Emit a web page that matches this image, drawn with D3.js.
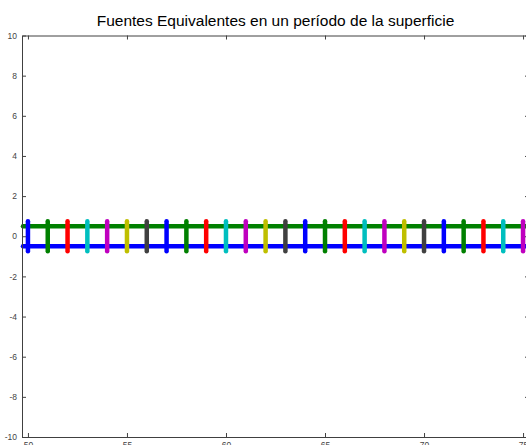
<!DOCTYPE html>
<html>
<head>
<meta charset="utf-8">
<script src="https://cdn.jsdelivr.net/npm/d3@7"></script>
<style>
  html, body { margin: 0; padding: 0; background: #fff; }
  svg { display: block; }
</style>
</head>
<body>
<svg id="chart" width="526" height="445"></svg>
<script>
// Equivalent sources: one vertical segment per integer position,
// two horizontal rails above and below the surface.
const sourcePositions = d3.range(50, 76);        // 50 .. 75
const segmentHalfHeight = 0.75;
const railLevels = [0.5, -0.5];
const railColors = ["#008000", "#0000ff"];
const railExtent = [49.75, 75.25];
const cycleColors = ["#0000ff", "#008000", "#ff0000", "#00bfbf", "#bf00bf", "#bfbf00", "#404040"];
const xTicks = [50, 55, 60, 65, 70, 75];
const yTicks = [-10, -8, -6, -4, -2, 0, 2, 4, 6, 8, 10];
const xDomain = [49.7, 75.3];
const yDomain = [-10, 10];
const titleText = "Fuentes Equivalentes en un período de la superficie";

const svg = d3.select("#chart");
const plotLeft = 22, plotRight = 529, plotTop = 35.5, plotBottom = 437;

const x = d3.scaleLinear().domain(xDomain).range([plotLeft, plotRight]);
const y = d3.scaleLinear().domain(yDomain).range([plotBottom, plotTop]);

const axisColor = "#404040";
const font = "'Liberation Sans', Arial, sans-serif";
const plain = d => String(d);   // hyphen-minus, as the labels are printed

// Title
svg.append("text")
  .attr("x", (plotLeft + plotRight) / 2)
  .attr("y", 26)
  .attr("text-anchor", "middle")
  .attr("font-family", font)
  .attr("font-size", 15.5)
  .attr("fill", "#000")
  .text(titleText);

// Horizontal rails
const line = d3.line().x(d => x(d[0])).y(d => y(d[1]));
svg.append("g").selectAll("path")
  .data(railLevels)
  .join("path")
  .attr("d", lv => line([[railExtent[0], lv], [railExtent[1], lv]]))
  .attr("stroke", (lv, i) => railColors[i])
  .attr("stroke-width", 4.5)
  .attr("stroke-linecap", "round")
  .attr("fill", "none");

// Vertical source segments
svg.append("g").selectAll("path")
  .data(sourcePositions)
  .join("path")
  .attr("d", p => line([[p, -segmentHalfHeight], [p, segmentHalfHeight]]))
  .attr("stroke", (p, i) => cycleColors[i % cycleColors.length])
  .attr("stroke-width", 4.5)
  .attr("stroke-linecap", "round")
  .attr("fill", "none");

// Axes (box with inward ticks)
const tickLen = 4;
const styleAxis = g => {
  g.select(".domain").attr("stroke", axisColor);
  g.selectAll(".tick line").attr("stroke", axisColor);
  g.selectAll(".tick text")
    .attr("fill", "#444")
    .attr("font-family", font)
    .attr("font-size", 8.5);
};

svg.append("g")
  .attr("transform", `translate(0,${plotBottom})`)
  .call(d3.axisBottom(x).tickValues(xTicks).tickSizeInner(-tickLen).tickSizeOuter(0)
    .tickPadding(4.5).tickFormat(plain))
  .call(styleAxis);

svg.append("g")
  .attr("transform", `translate(0,${plotTop})`)
  .call(d3.axisTop(x).tickValues(xTicks).tickSizeInner(-tickLen).tickSizeOuter(0).tickFormat(""))
  .call(styleAxis);

svg.append("g")
  .attr("transform", `translate(${plotLeft},0)`)
  .call(d3.axisLeft(y).tickValues(yTicks).tickSizeInner(-tickLen).tickSizeOuter(0)
    .tickPadding(5).tickFormat(plain))
  .call(styleAxis);

svg.append("g")
  .attr("transform", `translate(${plotRight},0)`)
  .call(d3.axisRight(y).tickValues(yTicks).tickSizeInner(-tickLen).tickSizeOuter(0).tickFormat(""))
  .call(styleAxis);
</script>
</body>
</html>
